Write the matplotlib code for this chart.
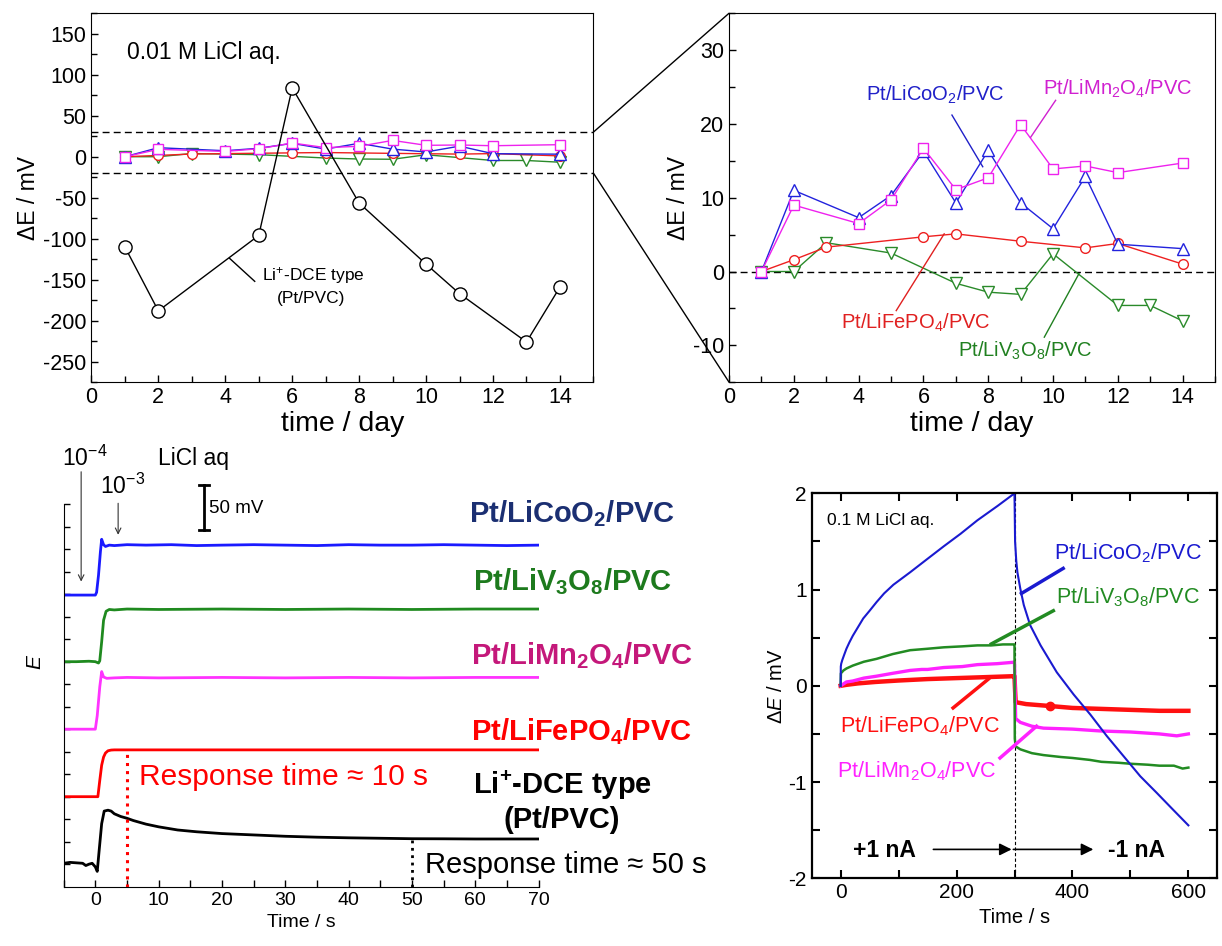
import matplotlib
matplotlib.use("Agg")
import matplotlib.pyplot as plt
from matplotlib.ticker import MultipleLocator
from matplotlib.patches import ConnectionPatch

plt.rcParams['font.family'] = ['Liberation Sans', 'DejaVu Sans']
plt.rcParams['mathtext.fontset'] = 'custom'
plt.rcParams['mathtext.rm'] = 'Liberation Sans'
plt.rcParams['mathtext.it'] = 'Liberation Sans:italic'
plt.rcParams['mathtext.bf'] = 'Liberation Sans:bold'
plt.rcParams['axes.unicode_minus'] = False

# ---------------- data: long-term stability (days) ----------------
dce_days = [1, 2, 5, 6, 8, 10, 11, 13, 14]
dce_dE = [-110, -188, -96, 84, -56.5, -131, -167, -226, -159]

lico_days = [1, 2, 4, 5, 6, 7, 8, 9, 10, 11, 12, 14]
lico_dE = [0, 11.0, 7.3, 10.3, 16.3, 9.3, 16.4, 9.3, 5.8, 12.9, 3.7, 3.1]

limn_days = [1, 2, 4, 5, 6, 7, 8, 9, 10, 11, 12, 14]
limn_dE = [0, 9.0, 6.5, 9.7, 16.7, 11.1, 12.7, 19.9, 13.9, 14.3, 13.4, 14.7]

life_days = [1, 2, 3, 6, 7, 9, 11, 12, 14]
life_dE = [0, 1.6, 3.3, 4.7, 5.1, 4.1, 3.2, 3.8, 1.0]

liv_days = [1, 2, 3, 5, 7, 8, 9, 10, 12, 13, 14]
liv_dE = [0, 0, 3.9, 2.5, -1.6, -2.8, -3.1, 2.4, -4.6, -4.6, -6.7]

# ---------------- data: response transients (s, mV offset traces) ----------------
c_blue_t = [-5, -3, -1, 0, 0.2, 0.5, 0.8, 1.0, 1.3, 1.6, 2.2, 3, 5, 8, 12, 16, 20, 25, 30, 35, 40, 45, 50, 55, 60, 65, 70]
c_blue_E = [324, 324, 324, 324, 327, 346, 372, 386, 380, 378, 379.5, 379, 380, 379.5, 380, 379, 379.5, 380, 379.5, 379, 380, 379.5, 379.5, 380, 379.5, 379, 379.5]

c_green_t = [-5, -3, -1, 0, 0.5, 0.7, 1.0, 1.3, 1.7, 2.2, 3, 5, 10, 20, 30, 40, 50, 60, 70]
c_green_E = [250, 250, 250.5, 250, 248.5, 251, 272, 296, 306, 308, 307.5, 308.5, 308, 308.5, 308, 308.5, 308, 308.5, 308.5]

c_mag_t = [-5, -3, -1, 0, 0.3, 0.7, 1.0, 1.3, 1.8, 3, 5, 10, 20, 30, 40, 50, 60, 70]
c_mag_E = [175, 175, 175, 175, 190, 222, 239, 233, 231.5, 232, 232.5, 232, 232.5, 232, 232.5, 232, 232.5, 232.5]

c_red_t = [-5, -2, 0, 0.4, 0.7, 1.0, 1.3, 1.6, 2.0, 2.5, 3, 5, 10, 20, 30, 40, 50, 60, 70]
c_red_E = [100, 100, 100, 100, 118, 135, 144, 148.5, 151, 151.8, 152, 152, 152, 152, 152, 152, 152, 152, 152]

c_dce_t = [-5, -4, -3, -2, -1.5, -1, -0.5, 0, 0.3, 0.6, 1.0, 1.4, 2.0, 2.5, 3, 4, 5, 6, 8, 10, 13, 16, 20, 25, 30, 35, 40, 45, 50, 55, 60, 65, 70]
c_dce_E = [26, 27, 26.5, 26, 23.5, 25, 26, 22, 17, 40, 70, 84, 85, 84, 81, 78, 76, 73.5, 69.5, 66.5, 63, 61, 59, 57.5, 56, 55, 54.3, 53.8, 53.3, 53.2, 53, 53, 53]

resp_times = [5, 50]

# ---------------- data: chronopotentiometry (s, mV) ----------------
d_blue_t = [0, 0.3, 1, 3, 6, 10, 15, 21, 30, 39, 50, 62, 75, 91, 120, 150, 178, 207, 236, 271, 300,
            300.5, 301, 303, 305, 310, 316, 327, 345, 373, 402, 431, 459, 488, 517, 545, 574, 600]
d_blue_E = [0, 0.2, 0.23, 0.27, 0.32, 0.385, 0.45, 0.52, 0.61, 0.70, 0.78, 0.87, 0.96, 1.05, 1.18, 1.32, 1.45, 1.58, 1.72, 1.87, 2.0,
            1.75, 1.5, 1.30, 1.18, 1.01, 0.84, 0.63, 0.42, 0.14, -0.09, -0.30, -0.52, -0.73, -0.94, -1.11, -1.29, -1.45]

d_green_t = [0, 0.5, 5, 10, 21, 40, 62, 90, 120, 150, 178, 210, 236, 260, 280, 299, 300, 300.5, 302, 310, 330, 350,
             380, 400, 430, 450, 480, 500, 530, 550, 575, 590, 600]
d_green_E = [0, 0.13, 0.16, 0.18, 0.21, 0.25, 0.28, 0.33, 0.37, 0.385, 0.40, 0.41, 0.42, 0.42, 0.43, 0.43, 0.43, -0.55, -0.63, -0.66, -0.70, -0.72,
             -0.74, -0.75, -0.77, -0.79, -0.80, -0.81, -0.82, -0.83, -0.83, -0.86, -0.85]

d_mag_t = [0, 10, 21, 40, 62, 90, 120, 140, 150, 178, 210, 236, 270, 299, 300, 302, 310, 330, 350, 400, 450, 500, 550, 580, 600]
d_mag_E = [0.0, 0.04, 0.05, 0.08, 0.10, 0.13, 0.16, 0.17, 0.17, 0.19, 0.20, 0.22, 0.23, 0.245, 0.245, -0.34, -0.38, -0.42, -0.44, -0.45, -0.47, -0.48, -0.50, -0.52, -0.50]

d_red_t = [0, 10, 30, 60, 100, 150, 200, 250, 299, 300, 301, 302, 320, 361, 400, 450, 500, 550, 600]
d_red_E = [0, 0.01, 0.025, 0.04, 0.055, 0.07, 0.08, 0.09, 0.10, 0.10, -0.05, -0.17, -0.19, -0.21, -0.23, -0.24, -0.25, -0.26, -0.26]
d_red_dot = (361, -0.21)
switch_time = 300

# ---------------- colours ----------------
BLUE = '#2222dd'
MAG = '#ee22ee'
RED = '#ee2020'
GREEN = '#2a8a2a'

fig = plt.figure(figsize=(12.22, 9.46), dpi=100)

# ================= Panel A =================
axA = fig.add_axes([0.0748, 0.596, 0.4108, 0.390])
axA.axhline(30, color='k', ls='--', lw=1.0, dashes=(5, 3))
axA.axhline(-20, color='k', ls='--', lw=1.0, dashes=(5, 3))
axA.plot(liv_days, liv_dE, color=GREEN, lw=1, marker='v', ms=8, mfc='white', mec=GREEN, mew=1)
axA.plot(life_days, life_dE, color=RED, lw=1, marker='o', ms=7, mfc='white', mec=RED, mew=1)
axA.plot(lico_days, lico_dE, color=BLUE, lw=1, marker='^', ms=8, mfc='white', mec=BLUE, mew=1)
axA.plot(limn_days, limn_dE, color=MAG, lw=1, marker='s', ms=7.5, mfc='white', mec=MAG, mew=1)
axA.plot(dce_days, dce_dE, color='k', lw=1, marker='o', ms=9.5, mfc='white', mec='k', mew=1)
axA.set_xlim(0, 15)
axA.set_ylim(-275, 175)
axA.xaxis.set_major_locator(MultipleLocator(2))
axA.xaxis.set_minor_locator(MultipleLocator(1))
axA.yaxis.set_major_locator(MultipleLocator(50))
axA.yaxis.set_minor_locator(MultipleLocator(25))
axA.tick_params(which='both', direction='in', labelsize=15.5, length=5, width=1)
axA.tick_params(which='minor', length=4)
axA.set_xlabel('time / day', fontsize=20.5, labelpad=2)
axA.set_ylabel('ΔE / mV', fontsize=16.5, labelpad=2)
axA.text(1.05, 127.5, '0.01 M LiCl aq.', fontsize=16.5, va='center', ha='left')
axA.text(6.63, -145, 'Li$^{+}$-DCE type', fontsize=12.5, ha='center', va='center')
axA.text(6.57, -173, '(Pt/PVC)', fontsize=12.5, ha='center', va='center')
axA.plot([4.88, 4.13], [-152, -124], color='k', lw=1)

# ================= Panel B =================
axB = fig.add_axes([0.5966, 0.596, 0.3977, 0.390])
axB.axhline(0, color='k', ls='--', lw=1.0, dashes=(5, 3))
axB.plot(liv_days, liv_dE, color=GREEN, lw=1, marker='v', ms=8, mfc='white', mec=GREEN, mew=1)
axB.plot(life_days, life_dE, color=RED, lw=1, marker='o', ms=7, mfc='white', mec=RED, mew=1)
axB.plot(lico_days, lico_dE, color=BLUE, lw=1, marker='^', ms=8, mfc='white', mec=BLUE, mew=1)
axB.plot(limn_days, limn_dE, color=MAG, lw=1, marker='s', ms=7, mfc='white', mec=MAG, mew=1)
axB.set_xlim(0, 15)
axB.set_ylim(-15, 35)
axB.xaxis.set_major_locator(MultipleLocator(2))
axB.xaxis.set_minor_locator(MultipleLocator(1))
axB.yaxis.set_major_locator(MultipleLocator(10))
axB.yaxis.set_minor_locator(MultipleLocator(5))
axB.tick_params(which='both', direction='in', labelsize=15.5, length=5, width=1)
axB.tick_params(which='minor', length=4)
axB.set_xlabel('time / day', fontsize=20.5, labelpad=2)
axB.set_ylabel('ΔE / mV', fontsize=16.5, labelpad=2)
axB.text(6.35, 23.9, 'Pt/LiCoO$_{2}$/PVC', color='#2020c8', fontsize=14.5, ha='center', va='center')
axB.plot([6.88, 7.83], [21.2, 14.2], color='#2020c8', lw=1)
axB.text(11.98, 24.8, 'Pt/LiMn$_{2}$O$_{4}$/PVC', color='#d020d0', fontsize=14.5, ha='center', va='center')
axB.plot([10.08, 9.31], [23.2, 18.2], color='#d020d0', lw=1)
axB.text(5.75, -6.9, 'Pt/LiFePO$_{4}$/PVC', color='#e02020', fontsize=14.5, ha='center', va='center')
axB.plot([5.16, 6.64], [-5.3, 5.1], color='#e02020', lw=1)
axB.text(9.13, -10.7, 'Pt/LiV$_{3}$O$_{8}$/PVC', color='#208020', fontsize=14.5, ha='center', va='center')
axB.plot([9.73, 10.8], [-8.9, -0.3], color='#208020', lw=1)

for ya, yb in [(30, 35), (-20, -15)]:
    con = ConnectionPatch(xyA=(15, ya), coordsA=axA.transData, xyB=(0, yb), coordsB=axB.transData,
                          color='k', lw=1)
    fig.add_artist(con)

# ================= Panel C =================
axC = fig.add_axes([0.0521, 0.0627, 0.3887, 0.4757])
axC.plot(c_blue_t, c_blue_E, color='#1a1aff', lw=2)
axC.plot(c_green_t, c_green_E, color='#1f8a1f', lw=2)
axC.plot(c_mag_t, c_mag_E, color='#ff33ff', lw=2)
axC.plot(c_red_t, c_red_E, color='#ff0000', lw=2)
axC.plot(c_dce_t, c_dce_E, color='k', lw=2)
axC.vlines(resp_times[0], 0, c_red_E[-1], colors='#ff0000', linestyles=':', lw=2.2)
axC.vlines(resp_times[1], 0, c_dce_E[-1], colors='k', linestyles=':', lw=2)
axC.set_xlim(-5, 70)
axC.set_ylim(0, 500)
for s in ['top', 'right']:
    axC.spines[s].set_visible(False)
axC.spines['left'].set_bounds(0, 425)
axC.set_yticks(list(range(25, 426, 25)))
axC.set_yticklabels([])
axC.xaxis.set_major_locator(MultipleLocator(10))
axC.xaxis.set_minor_locator(MultipleLocator(5))
axC.tick_params(which='both', direction='in', labelsize=14, length=5, width=1)
axC.tick_params(axis='y', length=4)
axC.tick_params(which='minor', length=5)
axC.set_xlabel('Time / s', fontsize=14, labelpad=4)
axC.set_ylabel('$E$', fontsize=15, labelpad=10)

axC.text(-1.6, 476, '10$^{-4}$', fontsize=16.5, ha='center', va='center')
axC.annotate('', xy=(-2.24, 339), xytext=(-2.24, 461),
             arrowprops=dict(arrowstyle='->', lw=0.8, color='#333333', shrinkA=0, shrinkB=0), annotation_clip=False)
axC.text(4.3, 445, '10$^{-3}$', fontsize=16.5, ha='center', va='center')
axC.annotate('', xy=(3.6, 391), xytext=(3.6, 426),
             arrowprops=dict(arrowstyle='->', lw=0.8, color='#333333', shrinkA=0, shrinkB=0), annotation_clip=False)
axC.text(15.5, 476, 'LiCl aq', fontsize=16.5, ha='center', va='center')
axC.plot([17.1, 17.1], [396, 446], color='k', lw=2)
axC.plot([16.3, 17.9], [446, 446], color='k', lw=2)
axC.plot([16.3, 17.9], [396, 396], color='k', lw=2)
axC.text(18.0, 420, '50 mV', fontsize=13.5, ha='left', va='center')

lab_kw = dict(fontsize=21, fontweight='bold', ha='center', va='center', clip_on=False)
axC.text(75.3, 415, 'Pt/LiCoO$_\\mathbf{2}$/PVC', color='#1b2f72', **lab_kw)
axC.text(75.3, 339, 'Pt/LiV$_\\mathbf{3}$O$_\\mathbf{8}$/PVC', color='#1d7a1d', **lab_kw)
axC.text(76.8, 257, 'Pt/LiMn$_\\mathbf{2}$O$_\\mathbf{4}$/PVC', color='#c4187a', **lab_kw)
axC.text(76.8, 172, 'Pt/LiFePO$_\\mathbf{4}$/PVC', color='#ff0000', **lab_kw)
axC.text(73.7, 113, 'Li$^\\mathbf{+}$-DCE type', color='k', **lab_kw)
axC.text(73.7, 74, '(Pt/PVC)', color='k', **lab_kw)
axC.text(6.9, 122, 'Response time ≈ 10 s', color='#ff0000', fontsize=21.5, ha='left', va='center')
axC.text(52, 24, 'Response time ≈ 50 s', color='k', fontsize=21, ha='left', va='center', clip_on=False)

# ================= Panel D =================
axD = fig.add_axes([0.6642, 0.0716, 0.3320, 0.4069])
axD.axvline(switch_time, color='k', lw=0.8, ls='--', dashes=(3, 2))
axD.plot(d_red_t, d_red_E, color='#ff1010', lw=3.2)
axD.plot([d_red_dot[0]], [d_red_dot[1]], 'o', color='#ff1010', ms=6)
axD.plot(d_mag_t, d_mag_E, color='#ff22ff', lw=2.4)
axD.plot(d_green_t, d_green_E, color='#228b22', lw=1.8)
axD.plot(d_blue_t, d_blue_E, color='#1a1ad0', lw=1.5)
axD.set_xlim(-50, 650)
axD.set_ylim(-2, 2)
axD.xaxis.set_major_locator(MultipleLocator(200))
axD.xaxis.set_minor_locator(MultipleLocator(100))
axD.yaxis.set_major_locator(MultipleLocator(1))
axD.yaxis.set_minor_locator(MultipleLocator(0.5))
axD.tick_params(which='both', direction='in', top=True, right=True, labelsize=15, length=6, width=1.5)
for s in axD.spines.values():
    s.set_linewidth(1.6)
axD.set_xlabel('Time / s', fontsize=14.5, labelpad=4)
axD.set_ylabel('$\\Delta E$ / mV', fontsize=14.5, labelpad=2)
axD.text(-24, 1.72, '0.1 M LiCl aq.', fontsize=12.5, ha='left', va='center')
axD.text(496, 1.38, 'Pt/LiCoO$_{2}$/PVC', color='#1a1ad0', fontsize=15.5, ha='center', va='center')
axD.plot([384, 312], [1.22, 0.96], color='#1a1ad0', lw=2.5)
axD.text(496, 0.92, 'Pt/LiV$_{3}$O$_{8}$/PVC', color='#228b22', fontsize=15.5, ha='center', va='center')
axD.plot([367, 260], [0.78, 0.435], color='#228b22', lw=2.5)
axD.text(136, -0.42, 'Pt/LiFePO$_{4}$/PVC', color='#ff1010', fontsize=15.5, ha='center', va='center')
axD.plot([194, 255], [-0.23, 0.07], color='#ff1010', lw=2.5)
axD.text(131, -0.89, 'Pt/LiMn$_{2}$O$_{4}$/PVC', color='#ff22ff', fontsize=15.5, ha='center', va='center')
axD.plot([275, 338], [-0.75, -0.42], color='#ff22ff', lw=2.5)
axD.text(76, -1.71, '+1 nA', fontsize=16.5, fontweight='bold', ha='center', va='center')
axD.text(511, -1.71, '-1 nA', fontsize=16.5, fontweight='bold', ha='center', va='center')
axD.annotate('', xy=(295, -1.70), xytext=(160, -1.70),
             arrowprops=dict(arrowstyle='-|>', lw=1.2, color='k', mutation_scale=18, shrinkA=0, shrinkB=0))
axD.annotate('', xy=(436, -1.70), xytext=(298, -1.70),
             arrowprops=dict(arrowstyle='-|>', lw=1.2, color='k', mutation_scale=18, shrinkA=0, shrinkB=0))

fig.savefig('out.png', dpi=100)
